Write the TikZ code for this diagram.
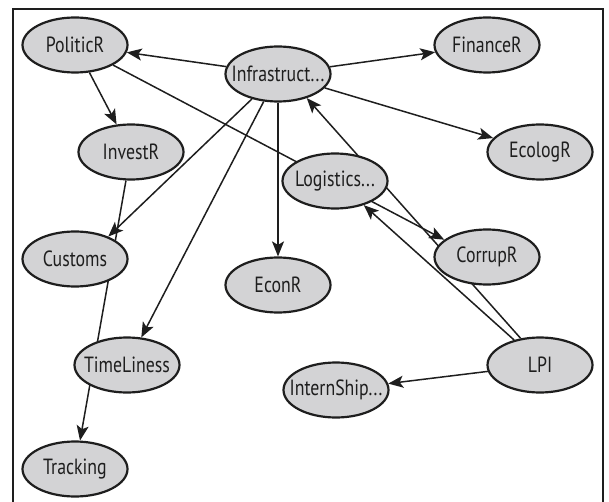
\documentclass[tikz,border=0pt]{standalone}
\usepackage{fontspec}
\setmainfont{PT Sans}[FakeStretch=0.81]
\usetikzlibrary{arrows.meta,shapes.geometric,backgrounds}
\definecolor{nodefill}{RGB}{211,211,213}
\definecolor{ink}{RGB}{30,30,30}
% labels are centred without widening the fixed-size ellipses
\newcommand\varlabel[1]{\makebox[0pt]{#1}}
\begin{document}
\begin{tikzpicture}[x=1pt,y=-1pt,
  var/.style={ellipse, draw=ink, line width=2.2pt, fill=nodefill,
    minimum width=105pt, minimum height=55pt, inner sep=0pt,
    font=\fontsize{22}{22}\selectfont, text=ink},
  link/.style={draw=ink, line width=1.5pt, -{Stealth[length=15pt,width=12pt,inset=3.5pt]}},
  frame/.style={draw=ink, line width=2pt}]
\useasboundingbox (0,0) rectangle (609,502);
% outer frame (open at the bottom edge)
\draw[frame] (13,506) -- (13,9) -- (603,9) -- (603,506);

% variables
\node[var] (politic)    at (75,45)   {\varlabel{PoliticR}};
\node[var] (infra)      at (278,74)  {\varlabel{Infrastruct...}};
\node[var] (finance)    at (487,45)  {\varlabel{FinanceR}};
\node[var] (ecolog)     at (540,152) {\varlabel{EcologR}};
\node[var] (invest)     at (131,152) {\varlabel{InvestR}};
\node[var] (logistics)  at (335,181) {\varlabel{Logistics...}};
\node[var] (corrup)     at (487,257) {\varlabel{CorrupR}};
\node[var] (customs)    at (75,259)  {\varlabel{Customs}};
\node[var] (econ)       at (278,285) {\varlabel{EconR}};
\node[var] (timeliness) at (127,365) {\varlabel{TimeLiness}};
\node[var] (intern)     at (336,390) {\varlabel{InternShip...}};
\node[var] (lpi)        at (540,365) {\varlabel{LPI}};
\node[var] (tracking)   at (75,469)  {\varlabel{Tracking}};

% dependencies, drawn beneath the variables
\begin{pgfonlayer}{background}
\draw[link] (infra) -- (politic);
\draw[link] (infra) -- (finance);
\draw[link] (infra) -- (ecolog);
\draw[link] (infra) -- (customs.34);
\draw[link] (infra) -- (timeliness);
\draw[link] (infra) -- (econ);
\draw[link] (politic) -- (invest);
\draw[link] (politic) -- (corrup.158);
\draw[link] (invest) -- (tracking);
\draw[link] (lpi.126) -- (infra.-40);
\draw[link] (lpi.136) -- (logistics.-40);
\draw[link] (lpi) -- (intern);
\end{pgfonlayer}
\end{tikzpicture}
\end{document}
